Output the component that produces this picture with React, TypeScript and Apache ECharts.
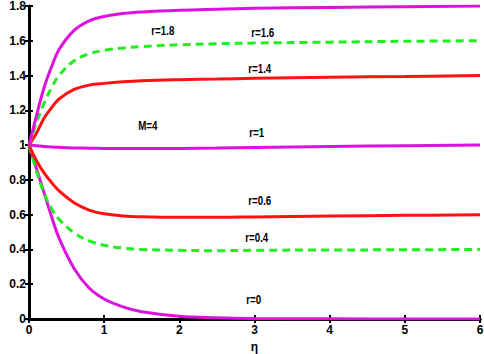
import React, { useEffect, useRef } from "react";
import * as echarts from "echarts";

const eta = [0, 0.1, 0.2, 0.3, 0.4, 0.6, 0.8, 1.0, 1.25, 1.5, 2, 2.5, 3, 4, 5, 6];
const r18 = [1, 1.17, 1.33, 1.45, 1.55, 1.66, 1.715, 1.74, 1.757, 1.766, 1.776, 1.782, 1.787, 1.792, 1.796, 1.8];
const r16 = [1, 1.13, 1.24, 1.33, 1.4, 1.485, 1.525, 1.545, 1.558, 1.567, 1.577, 1.583, 1.587, 1.592, 1.597, 1.6];
const r14 = [1, 1.07, 1.155, 1.215, 1.265, 1.32, 1.345, 1.355, 1.364, 1.37, 1.376, 1.38, 1.384, 1.39, 1.395, 1.4];
const r10 = [1, 0.996, 0.992, 0.989, 0.987, 0.984, 0.982, 0.981, 0.98, 0.98, 0.981, 0.983, 0.986, 0.992, 0.997, 1.0];
const r06 = [1, 0.91, 0.84, 0.785, 0.737, 0.668, 0.626, 0.605, 0.593, 0.588, 0.585, 0.585, 0.587, 0.592, 0.596, 0.6];
const r04 = [1, 0.85, 0.725, 0.635, 0.573, 0.496, 0.449, 0.424, 0.408, 0.4, 0.395, 0.393, 0.395, 0.397, 0.398, 0.4];
const r00 = [1, 0.865, 0.727, 0.59, 0.465, 0.29, 0.178, 0.115, 0.07, 0.042, 0.016, 0.007, 0.003, 0.001, 0, 0];

const labels = [
  { text: "r=1.8", x: 1.78, y: 1.66 },
  { text: "r=1.6", x: 3.11, y: 1.65 },
  { text: "r=1.4", x: 3.07, y: 1.44 },
  { text: "M=4", x: 1.58, y: 1.115 },
  { text: "r=1", x: 3.03, y: 1.07 },
  { text: "r=0.6", x: 3.07, y: 0.684 },
  { text: "r=0.4", x: 3.03, y: 0.466 },
  { text: "r=0", x: 2.99, y: 0.11 },
];

const MAGENTA = "#dd11dd";
const GREEN = "#22ee22";
const RED = "#ff1111";
const FONT = "'Liberation Sans Narrow', 'Liberation Sans', Arial, sans-serif";

export default function App() {
  const ref = useRef<HTMLDivElement>(null);
  useEffect(() => {
    const chart = echarts.init(ref.current!, null, { renderer: "svg" });
    const mk = (vals: number[], color: string, dashed: boolean) => ({
      type: "line",
      data: eta.map((e, i) => [e, vals[i]]),
      smooth: 0.4,
      showSymbol: false,
      symbol: "none",
      lineStyle: { color, width: 3, type: dashed ? [8, 5] : "solid" },
    });
    const axisCommon = {
      min: 0,
      axisLine: { show: true, lineStyle: { color: "#000", width: 3 } },
      axisTick: { show: true, inside: true, length: 4, lineStyle: { color: "#000", width: 2 } },
      splitLine: { show: false },
    };
    const labelStyle = { color: "#000", fontFamily: FONT, fontWeight: "bold", fontSize: 12 };
    chart.setOption({
      animation: false,
      backgroundColor: "#fff",
      grid: { left: 29, right: 4, top: 6, bottom: 35, containLabel: false, outerBoundsMode: "none" },
      xAxis: [
        {
          ...axisCommon,
          type: "value",
          max: 6,
          interval: 1,
          position: "bottom",
          axisLabel: { ...labelStyle, margin: 5 },
          name: "η",
          nameLocation: "middle",
          nameGap: 22,
          nameTextStyle: labelStyle,
        },
        {
          ...axisCommon,
          type: "value",
          max: 6,
          interval: 1,
          position: "top",
          axisLabel: { show: false },
        },
      ],
      yAxis: [
        {
          ...axisCommon,
          type: "value",
          max: 1.8,
          interval: 0.2,
          position: "left",
          axisLabel: {
            ...labelStyle,
            margin: 3,
            formatter: (v: number) => String(Math.round(v * 10) / 10),
          },
          name: "f '(η)",
          nameLocation: "middle",
          nameGap: 17,
          nameTextStyle: labelStyle,
        },
        {
          ...axisCommon,
          type: "value",
          max: 1.8,
          interval: 0.2,
          position: "right",
          axisLine: { show: true, lineStyle: { color: "#000", width: 2 } },
          axisLabel: { show: false },
        },
      ],
      series: [
        mk(r00, MAGENTA, false),
        mk(r04, GREEN, true),
        mk(r06, RED, false),
        mk(r10, MAGENTA, false),
        mk(r14, RED, false),
        mk(r16, GREEN, true),
        mk(r18, MAGENTA, false),
      ],
    });
    chart.setOption({
      graphic: labels.map((l) => {
        const [px, py] = chart.convertToPixel({ xAxisIndex: 0, yAxisIndex: 0 }, [l.x, l.y]);
        return {
          type: "text",
          x: px,
          y: py,
          scaleX: 0.75,
          style: {
            text: l.text,
            fill: "#000",
            font: `bold 13px ${FONT}`,
            align: "center",
            verticalAlign: "middle",
          },
          z: 10,
        };
      }),
    });
    return () => chart.dispose();
  }, []);
  return <div ref={ref} style={{ width: 484, height: 354, position: "absolute", left: 0, top: 0 }} />;
}
